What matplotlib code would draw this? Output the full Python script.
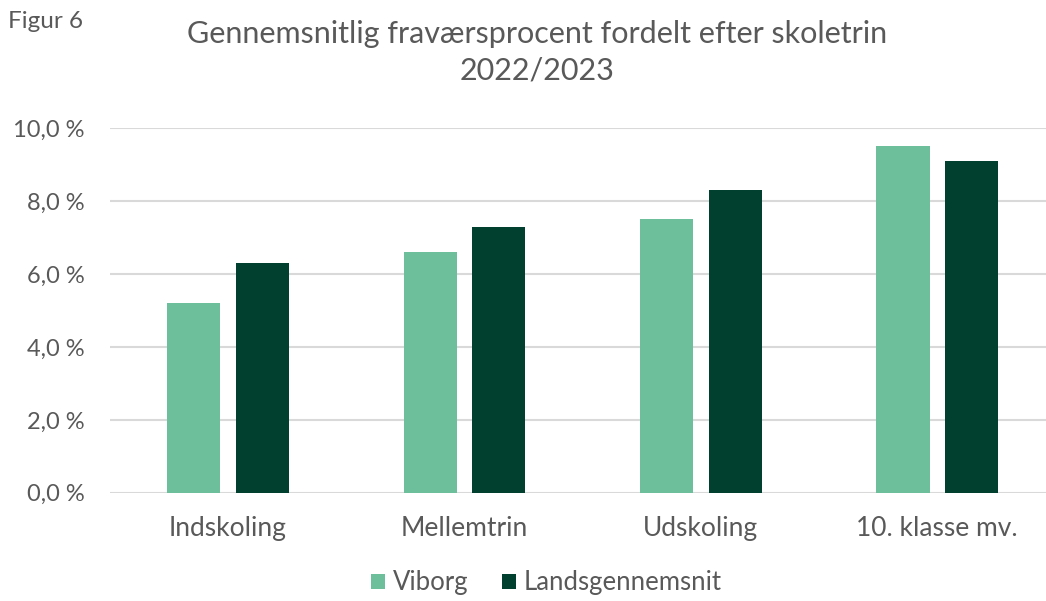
import numpy as np
import matplotlib
matplotlib.use("Agg")
import matplotlib.pyplot as plt
from matplotlib.ticker import FuncFormatter

plt.rcParams['font.family'] = ['Lato', 'DejaVu Sans']

categories = ["Indskoling", "Mellemtrin", "Udskoling", "10. klasse mv."]
viborg = [5.2, 6.6, 7.5, 9.5]
lands = [6.3, 7.3, 8.3, 9.1]
yticks = [0, 2, 4, 6, 8, 10]

txt = "#595959"
c_viborg = "#6dbf9c"
c_lands = "#01402f"

fig = plt.figure(figsize=(10.46, 6.01), dpi=100)
ax = fig.add_axes([0.105, 0.180, 0.904, 0.607])

x = np.arange(len(categories))
w = 0.225
gap = 0.065
ax.bar(x - (w + gap) / 2, viborg, w, color=c_viborg, label="Viborg", zorder=3)
ax.bar(x + (w + gap) / 2, lands, w, color=c_lands, label="Landsgennemsnit", zorder=3)

ax.set_ylim(0, 10)
ax.set_xlim(-0.5, len(categories) - 0.5)
ax.set_yticks(yticks)
ax.yaxis.set_major_formatter(FuncFormatter(lambda v, p: f"{v:.1f}".replace(".", ",") + " %"))
ax.set_xticks(x)
ax.set_xticklabels(categories)
ax.grid(axis="y", color="#d9d9d9", linewidth=1.5, zorder=0)
for s in ax.spines.values():
    s.set_visible(False)
ax.tick_params(axis="y", length=0, labelsize=17, colors=txt, pad=18)
ax.tick_params(axis="x", length=0, labelsize=19, colors=txt, pad=17)

fig.text(0.008, 0.965, "Figur 6", fontsize=17.5, color=txt, ha="left", va="center")
fig.text(0.513, 0.913, "Gennemsnitlig fraværsprocent fordelt efter skoletrin\n2022/2023",
         fontsize=22, color=txt, ha="center", va="center", linespacing=1.38)

fig.legend(loc="center", bbox_to_anchor=(0.522, 0.03), ncol=2, frameon=False,
           fontsize=18.5, labelcolor=txt, handlelength=0.55, handleheight=0.55,
           handletextpad=0.3, columnspacing=1.3)

plt.savefig("out.png", dpi=100)
